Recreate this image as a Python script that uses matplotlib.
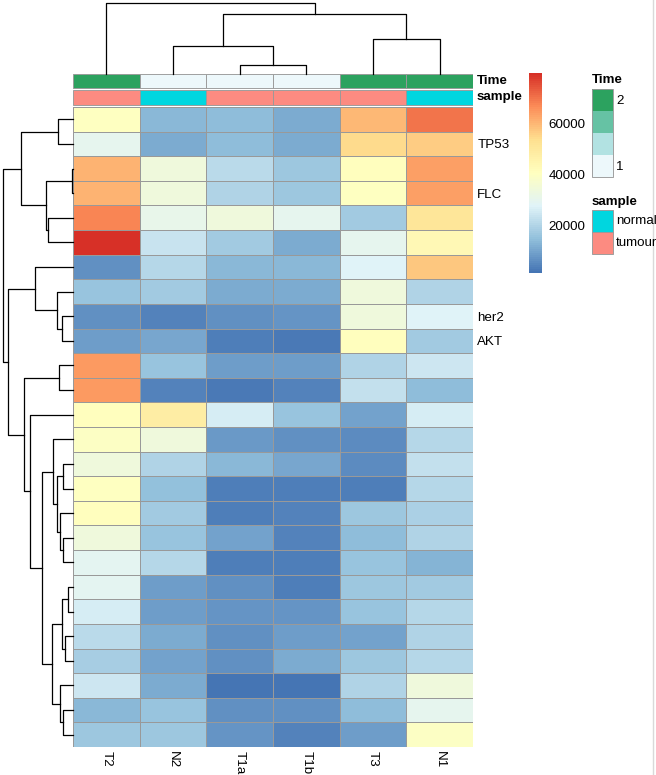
import numpy as np
import matplotlib
matplotlib.use("Agg")
import matplotlib.pyplot as plt
from matplotlib.colors import LinearSegmentedColormap, Normalize
from matplotlib.cm import ScalarMappable
from matplotlib.patches import Rectangle

plt.rcParams["font.family"] = ["Liberation Sans", "DejaVu Sans"]
FS = 9.6

# ---- data ----
samples = ["T2", "N2", "T1a", "T1b", "T3", "N1"]
time_val = [2, 1, 1, 1, 2, 2]
sample_type = ["tumour", "normal", "tumour", "tumour", "tumour", "normal"]

row_labels = ["", "TP53", "", "FLC", "", "", "", "", "her2", "AKT",
              "", "", "", "", "", "", "", "", "", "", "", "", "", "", "", ""]

expr = np.array([
    [39900, 13800, 14600, 11900, 59300, 69400],
    [29800, 11900, 15000, 11500, 54600, 56200],
    [60500, 33700, 21600, 17300, 40700, 63200],
    [60500, 33700, 19700, 16600, 39900, 63200],
    [67100, 31300, 33700, 29800, 18100, 50800],
    [79500, 24300, 18100, 11900, 30500, 43000],
    [6500, 21200, 13800, 13800, 28200, 57000],
    [15800, 18100, 11900, 11900, 34400, 19700],
    [7200, 4900, 6500, 7600, 33700, 28200],
    [8800, 10700, 3400, 3000, 40700, 18100],
    [64000, 15800, 8800, 9200, 19700, 25100],
    [64000, 4900, 2600, 4500, 22800, 15000],
    [40700, 48400, 25900, 15800, 10300, 25900],
    [39100, 34400, 8400, 6500, 5700, 21200],
    [33700, 19700, 13500, 10700, 5700, 23200],
    [39900, 15400, 3400, 4100, 3700, 20500],
    [41400, 17700, 4100, 4500, 17300, 18900],
    [33700, 15800, 10300, 4900, 14600, 19700],
    [29000, 21200, 3400, 3400, 16200, 13100],
    [29000, 9200, 7200, 3400, 17000, 18100],
    [25900, 8800, 7600, 8000, 16200, 21200],
    [21600, 11500, 6500, 8800, 10300, 19700],
    [18500, 10300, 6500, 11900, 17000, 20500],
    [24700, 11900, 1800, 1900, 19700, 34400],
    [13800, 15800, 7200, 6500, 15000, 29800],
    [16600, 17000, 7600, 4500, 9200, 39100],
])

# linkage in display order: (left, right, height); new node ids start at n
row_merges = [
    (2, 3, 1.3), (19, 20, 5.3), (21, 22, 7.7), (17, 18, 9.7), (24, 25, 9.7),
    (14, 15, 10.3), (8, 9, 11.3), (27, 28, 11.3), (16, 29, 12.7), (23, 30, 12.7),
    (10, 11, 14.3), (0, 1, 15.3), (7, 32, 16.3), (31, 34, 16.3), (13, 39, 19.7),
    (33, 35, 21.3), (4, 5, 25.3), (26, 42, 27.0), (40, 41, 30.7), (6, 38, 37.7),
    (12, 44, 42.7), (36, 46, 48.7), (37, 43, 52.3), (45, 47, 64.7), (48, 49, 69.7),
]
col_merges = [(2, 3, 9), (1, 6, 28), (4, 5, 35), (7, 8, 60), (0, 9, 71)]

# ---- styles ----
heat_cols = ["#4575B4", "#91BFDB", "#E0F3F8", "#FFFFBF", "#FEE090", "#FC8D59", "#D73027"]
cmap = LinearSegmentedColormap.from_list("rdylbu_r", heat_cols, N=100)
vmin, vmax = 1800, 79500
norm = Normalize(vmin, vmax)
time_cols = ["#EDF8FB", "#B2E2E2", "#66C2A4", "#2CA25F"]
time_cmap = LinearSegmentedColormap.from_list("time", time_cols)
sample_cols = {"normal": "#00D6DF", "tumour": "#FC8B81"}
GRID = "#999999"

W, H = 656, 775
fig = plt.figure(figsize=(W / 100, H / 100), dpi=100)


def px_axes(x0, y0, x1, y1):
    return fig.add_axes([x0 / W, 1 - y1 / H, (x1 - x0) / W, (y1 - y0) / H])


def draw_dendro(ax, merges, n, orient):
    pos = {i: i + 0.5 for i in range(n)}
    hgt = {i: 0.0 for i in range(n)}
    for k, (a, b, h) in enumerate(merges):
        xs = [pos[a], pos[a], pos[b], pos[b]]
        hs = [hgt[a], h, h, hgt[b]]
        if orient == "top":
            ax.plot(xs, hs, color="black", lw=0.9, clip_on=False)
        else:
            ax.plot(hs, xs, color="black", lw=0.9, clip_on=False)
        pos[n + k] = (pos[a] + pos[b]) / 2
        hgt[n + k] = h
    ax.axis("off")


n_rows, n_cols = expr.shape
x0, x1, y0, y1 = 73, 473, 107, 747

# heatmap
ax = px_axes(x0, y0, x1, y1)
ax.pcolormesh(np.arange(n_cols + 1), np.arange(n_rows + 1), expr, cmap=cmap, norm=norm,
              edgecolors=GRID, linewidth=0.65)
ax.set_xlim(0, n_cols)
ax.set_ylim(n_rows, 0)
for s in ax.spines.values():
    s.set_visible(False)
ax.set_xticks(np.arange(n_cols) + 0.5)
ax.set_xticklabels(samples, rotation=270, fontsize=FS)
ax.set_yticks(np.arange(n_rows) + 0.5)
ax.set_yticklabels(row_labels, fontsize=FS)
ax.yaxis.tick_right()
ax.tick_params(length=0, pad=3)

# annotation bars
ann = px_axes(x0, 73, x1, 105.5)
ann.bar(np.arange(n_cols) + 0.5, 0.9, bottom=0.05, width=1,
        color=[time_cmap((t - 1) / 1) for t in time_val], edgecolor=GRID, linewidth=0.65)
ann.bar(np.arange(n_cols) + 0.5, 0.9, bottom=1.05, width=1,
        color=[sample_cols[s] for s in sample_type], edgecolor=GRID, linewidth=0.65)
ann.set_xlim(0, n_cols)
ann.set_ylim(2, 0)
ann.axis("off")
ann.text(n_cols + 0.06, 0.5, "Time", fontsize=FS, fontweight="bold", va="center", ha="left")
ann.text(n_cols + 0.06, 1.5, "sample", fontsize=FS, fontweight="bold", va="center", ha="left")

# dendrograms
cd = px_axes(x0, 0, x1, 74)
draw_dendro(cd, col_merges, n_cols, "top")
cd.set_xlim(0, n_cols)
cd.set_ylim(0, 74)

rd = px_axes(0, y0, 73, y1)
draw_dendro(rd, row_merges, n_rows, "left")
rd.set_xlim(73, 0)
rd.set_ylim(n_rows, 0)

# colour key
cax = px_axes(528.5, 73.3, 541.7, 272.7)
cb = fig.colorbar(ScalarMappable(norm=norm, cmap=cmap), cax=cax, ticks=[20000, 40000, 60000])
cb.outline.set_visible(False)
cax.tick_params(length=0, labelsize=FS, pad=5)

# annotation legends
lg = fig.add_axes([0, 0, 1, 1], facecolor="none")
lg.set_xlim(0, W)
lg.set_ylim(H, 0)
lg.axis("off")
bx0, bw = 591.5, 21.8
lg.text(bx0, 80, "Time", fontsize=FS, fontweight="bold", va="center", ha="left")
bh = 21.85
for i, c in enumerate(time_cols[::-1]):
    lg.add_patch(Rectangle((bx0, 89.3 + i * bh), bw, bh, facecolor=c, edgecolor="none"))
lg.add_patch(Rectangle((bx0, 89.3), bw, 4 * bh, facecolor="none", edgecolor=GRID, lw=0.65))
lg.text(bx0 + bw + 3, 89.3 + 0.55 * bh, "2", fontsize=FS, va="center", ha="left")
lg.text(bx0 + bw + 3, 89.3 + 3.55 * bh, "1", fontsize=FS, va="center", ha="left")

lg.text(bx0, 201.5, "sample", fontsize=FS, fontweight="bold", va="center", ha="left")
for i, name in enumerate(["normal", "tumour"]):
    yb = 210 + i * 22
    lg.add_patch(Rectangle((bx0, yb), bw, 22, facecolor=sample_cols[name], edgecolor=GRID, lw=0.65))
    lg.text(bx0 + bw + 3, yb + 11, name, fontsize=FS, va="center", ha="left")

lg.plot([653, 653], [0, H], color="#d9d9d9", lw=1)

fig.savefig("out.png", dpi=100)
